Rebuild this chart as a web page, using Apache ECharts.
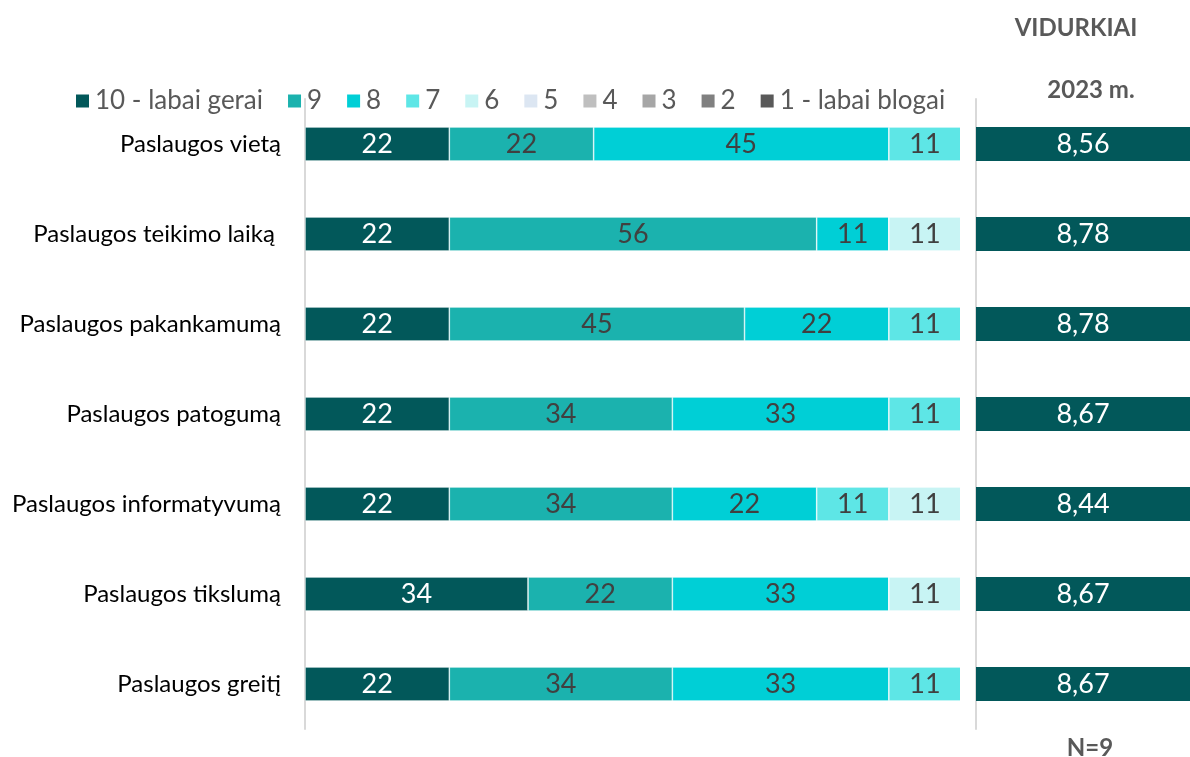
<!DOCTYPE html>
<html>
<head>
<meta charset="utf-8">
<script src="https://cdn.jsdelivr.net/npm/echarts@6/dist/echarts.min.js"></script>
<style>
  html, body { margin: 0; padding: 0; background: #fff; }
  #chart { width: 1190px; height: 757px; }
</style>
</head>
<body>
<div id="chart"></div>
<script>
// kategorijos (iš viršaus į apačią)
var categories = [
  "Paslaugos vietą",
  "Paslaugos teikimo laiką ",
  "Paslaugos pakankamumą",
  "Paslaugos patogumą",
  "Paslaugos informatyvumą",
  "Paslaugos tikslumą",
  "Paslaugos greitį"
];

var seriesNames = ["10 - labai gerai", "9", "8", "7", "6", "5", "4", "3", "2", "1 - labai blogai"];
var seriesColors = ["#02585a", "#1bb2ae", "#00cfd6", "#5ee6e6", "#c8f4f4", "#dce6f2", "#bfbfbf", "#a6a6a6", "#808080", "#595959"];

// procentai pagal vertinimą
var v10 = [22, 22, 22, 22, 22, 34, 22];
var v9  = [22, 56, 45, 34, 34, 22, 34];
var v8  = [45, 11, 22, 33, 22, 33, 33];
var v7  = [11, 0, 11, 11, 11, 0, 11];
var v6  = [0, 11, 0, 0, 11, 11, 0];
var v5  = [0, 0, 0, 0, 0, 0, 0];
var v4  = [0, 0, 0, 0, 0, 0, 0];
var v3  = [0, 0, 0, 0, 0, 0, 0];
var v2  = [0, 0, 0, 0, 0, 0, 0];
var v1  = [0, 0, 0, 0, 0, 0, 0];
var allValues = [v10, v9, v8, v7, v6, v5, v4, v3, v2, v1];

// vidurkiai 2023 m.
var averages = [8.56, 8.78, 8.78, 8.67, 8.44, 8.67, 8.67];

var FONT = "Lato, 'Open Sans', sans-serif";
var myChart = echarts.init(document.getElementById("chart"));

var series = seriesNames.map(function (name, i) {
  return {
    name: name,
    type: "bar",
    stack: "total",
    xAxisIndex: 0,
    yAxisIndex: 0,
    barWidth: 34,
    data: allValues[i],
    itemStyle: { color: seriesColors[i], borderColor: "#ffffff", borderWidth: 0.6 },
    label: {
      show: true,
      position: "inside",
      fontFamily: FONT,
      fontSize: 27,
      color: i === 0 ? "#ffffff" : "#404040",
      formatter: function (p) { return p.value > 0 ? p.value : ""; }
    }
  };
});

series.push({
  name: "Vidurkis",
  type: "bar",
  xAxisIndex: 1,
  yAxisIndex: 1,
  barWidth: 34,
  clip: true,
  data: averages,
  itemStyle: { color: "#02585a" },
  label: {
    show: true,
    position: "inside",
    fontFamily: FONT,
    fontSize: 27,
    color: "#ffffff",
    formatter: function (p) { return p.value.toFixed(2).replace(".", ","); }
  }
});

var option = {
  animation: false,
  title: [
    { text: "VIDURKIAI", left: 1071, top: 11, textAlign: "center",
      textStyle: { fontFamily: FONT, fontSize: 24, fontWeight: "bold", color: "#595959" } },
    { text: "2023 m.", left: 1086, top: 73, textAlign: "center",
      textStyle: { fontFamily: FONT, fontSize: 24, fontWeight: "bold", color: "#595959" } },
    { text: "N=9", left: 1085, top: 731, textAlign: "center",
      textStyle: { fontFamily: FONT, fontSize: 24, fontWeight: "bold", color: "#595959" } }
  ],
  legend: {
    data: seriesNames,
    left: 69,
    top: 83,
    itemWidth: 15,
    itemHeight: 15,
    itemGap: 23,
    icon: "rect",
    textStyle: { fontFamily: FONT, fontSize: 26, color: "#595959" }
  },
  grid: [
    { left: 305, width: 656, top: 99, height: 630 },
    { left: 976, right: 0, top: 99, height: 630 }
  ],
  xAxis: [
    { gridIndex: 0, type: "value", min: 0, max: 100, show: false },
    { gridIndex: 1, type: "value", min: 0, max: function (v) { return v.min; }, show: false }
  ],
  yAxis: [
    {
      gridIndex: 0, type: "category", data: categories, inverse: true,
      axisLine: { show: true, lineStyle: { color: "#d9d9d9", width: 2 } },
      axisTick: { show: false },
      axisLabel: { fontFamily: FONT, fontSize: 24, color: "#000000", margin: 24 }
    },
    {
      gridIndex: 1, type: "category", data: categories, inverse: true,
      axisLine: { show: true, lineStyle: { color: "#d9d9d9", width: 2 } },
      axisTick: { show: false },
      axisLabel: { show: false }
    }
  ],
  series: series
};

myChart.setOption(option);
</script>
</body>
</html>
